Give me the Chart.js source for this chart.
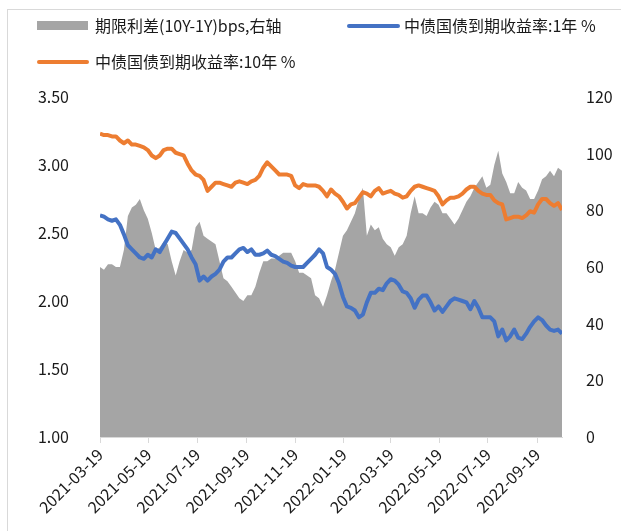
<!DOCTYPE html>
<html>
<head>
<meta charset="utf-8">
<script src="https://cdn.jsdelivr.net/npm/chart.js@4"></script>
<style>
  html, body { margin: 0; padding: 0; background: #fff; }
  #wrap { position: relative; width: 621px; height: 531px; overflow: hidden; }
  #frame { position: absolute; left: 7px; top: 9px; width: 640px; height: 560px; border: 1px solid #d9d9d9; }
  canvas { position: absolute; left: 0; top: 0; }
  .lg { position: absolute; font: 16px "Noto Sans CJK SC", sans-serif; color: #1a1a1a; white-space: nowrap; line-height: 20px; }
  .sw { position: absolute; }
</style>
</head>
<body>
<div id="wrap">
  <div id="frame"></div>
  <canvas id="spreadChart" width="621" height="531"></canvas>
  <!-- legenda -->
  <div class="sw" style="left:37px;top:21px;width:51px;height:9px;background:#a5a5a5"></div>
  <div class="lg" style="left:95px;top:15px">期限利差(10Y-1Y)bps,右轴</div>
  <div class="sw" style="left:347px;top:24px;width:53px;height:4px;border-radius:2px;background:#4472c4"></div>
  <div class="lg" style="left:404px;top:15px">中债国债到期收益率:1年 %</div>
  <div class="sw" style="left:37px;top:60px;width:52px;height:4px;border-radius:2px;background:#ed7d31"></div>
  <div class="lg" style="left:95px;top:51px">中债国债到期收益率:10年 %</div>
</div>
<script>
// ==========================
// DADOS (amostra a cada 5 dias a partir de 2021-03-19)
// ==========================
const startDate = "2021-03-19"
const stepDays = 5

// Rótulos do eixo X
const tickLabels = ["2021-03-19", "2021-05-19", "2021-07-19", "2021-09-19", "2021-11-19",
  "2022-01-19", "2022-03-19", "2022-05-19", "2022-07-19", "2022-09-19"]

// 中债国债到期收益率:10年 (%)
const tenYear = [
  3.23, 3.22, 3.22, 3.21, 3.21, 3.18, 3.16, 3.18, 3.15, 3.15,
  3.14, 3.13, 3.11, 3.07, 3.05, 3.07, 3.11, 3.12, 3.12, 3.09,
  3.08, 3.07, 3.01, 2.96, 2.93, 2.92, 2.89, 2.81, 2.84, 2.87,
  2.87, 2.86, 2.85, 2.84, 2.87, 2.88, 2.87, 2.86, 2.88, 2.89,
  2.92, 2.98, 3.02, 2.99, 2.96, 2.93, 2.93, 2.93, 2.92, 2.85,
  2.83, 2.86, 2.85, 2.85, 2.85, 2.84, 2.81, 2.77, 2.82, 2.79,
  2.77, 2.73, 2.68, 2.71, 2.72, 2.76, 2.80, 2.79, 2.77, 2.81,
  2.83, 2.79, 2.80, 2.81, 2.79, 2.78, 2.76, 2.77, 2.81, 2.84,
  2.85, 2.84, 2.83, 2.82, 2.81, 2.77, 2.71, 2.74, 2.76, 2.76,
  2.77, 2.79, 2.82, 2.84, 2.84, 2.81, 2.79, 2.78, 2.78, 2.74,
  2.72, 2.71, 2.60, 2.61, 2.62, 2.62, 2.61, 2.63, 2.66, 2.65,
  2.71, 2.75, 2.75, 2.72, 2.70, 2.72, 2.67
]

// 中债国债到期收益率:1年 (%)
const oneYear = [
  2.63, 2.62, 2.60, 2.59, 2.60, 2.56, 2.49, 2.41, 2.38, 2.35,
  2.32, 2.31, 2.34, 2.32, 2.38, 2.36, 2.41, 2.46, 2.51, 2.50,
  2.46, 2.42, 2.38, 2.32, 2.27, 2.15, 2.18, 2.15, 2.18, 2.20,
  2.23, 2.29, 2.32, 2.32, 2.35, 2.38, 2.39, 2.36, 2.38, 2.34,
  2.34, 2.35, 2.37, 2.34, 2.33, 2.31, 2.29, 2.28, 2.26, 2.25,
  2.25, 2.25, 2.28, 2.31, 2.34, 2.38, 2.35, 2.25, 2.23, 2.20,
  2.13, 2.03, 1.96, 1.95, 1.93, 1.88, 1.90, 1.99, 2.06, 2.06,
  2.09, 2.08, 2.13, 2.16, 2.15, 2.12, 2.07, 2.06, 2.02, 1.95,
  2.01, 2.04, 2.04, 1.99, 1.93, 1.96, 1.92, 1.96, 2.00, 2.02,
  2.01, 2.00, 1.99, 1.94, 2.00, 1.95, 1.88, 1.88, 1.88, 1.85,
  1.74, 1.79, 1.71, 1.74, 1.79, 1.73, 1.72, 1.76, 1.81, 1.85,
  1.88, 1.86, 1.82, 1.79, 1.78, 1.79, 1.76
]

// 期限利差 10Y-1Y (bps, eixo direito)
const spread = [
  60, 59, 61, 61, 60, 60, 66, 78, 81, 82,
  84, 80, 77, 72, 66, 67, 69, 68, 62, 57,
  62, 66, 65, 66, 74, 76, 71, 70, 69, 68,
  62, 56, 55, 53, 51, 49, 48, 50, 50, 53,
  58, 62, 62, 63, 63, 64, 65, 65, 65, 62,
  58, 58, 57, 56, 50, 49, 46, 50, 55, 59,
  65, 71, 73, 76, 79, 84, 88, 71, 75, 73,
  74, 70, 68, 67, 64, 67, 68, 71, 79, 85,
  79, 79, 78, 81, 83, 82, 79, 79, 77, 75,
  77, 80, 83, 85, 88, 90, 92, 88, 89, 96,
  101, 93, 90, 86, 86, 90, 88, 87, 84, 84,
  87, 91, 92, 94, 92, 95, 94
]

// Converte data "AAAA-MM-DD" em dias desde o início
const dayOf = (s) => {
  const [y, m, d] = s.split("-").map(Number)
  const [y0, m0, d0] = startDate.split("-").map(Number)
  return (Date.UTC(y, m - 1, d) - Date.UTC(y0, m0 - 1, d0)) / 86400000
}
const tickDays = tickLabels.map(dayOf)
const toPoints = (arr) => arr.map((v, i) => ({ x: i * stepDays, y: v }))
const lastDay = (spread.length - 1) * stepDays

const font = { family: "'Noto Sans CJK SC', sans-serif", size: 16 }

// ==========================
// GRÁFICO
// ==========================
const ctx = document.getElementById("spreadChart").getContext("2d")

const spreadChart = new Chart(ctx, {
  type: "line",
  data: {
    datasets: [
      {
        label: "中债国债到期收益率:1年 %",
        data: toPoints(oneYear),
        yAxisID: "y",
        borderColor: "#4472c4",
        borderWidth: 4,
        pointRadius: 0,
        tension: 0,
        borderJoinStyle: "round",
        order: 1,
      },
      {
        label: "中债国债到期收益率:10年 %",
        data: toPoints(tenYear),
        yAxisID: "y",
        borderColor: "#ed7d31",
        borderWidth: 4,
        pointRadius: 0,
        tension: 0,
        borderJoinStyle: "round",
        order: 2,
      },
      {
        label: "期限利差(10Y-1Y)bps,右轴",
        data: toPoints(spread),
        yAxisID: "y1",
        borderWidth: 0,
        backgroundColor: "#a5a5a5",
        fill: "start",
        pointRadius: 0,
        tension: 0,
        order: 3,
      },
    ],
  },
  options: {
    responsive: false,
    animation: false,
    devicePixelRatio: 1,
    layout: { padding: { top: 97, left: 0, right: 0, bottom: 0 } },
    plugins: {
      legend: { display: false },
      tooltip: { enabled: false },
    },
    scales: {
      x: {
        type: "linear",
        min: 0,
        max: lastDay,
        afterBuildTicks: (axis) => {
          axis.ticks = tickDays.map((v) => ({ value: v }))
        },
        afterFit: (axis) => { axis.height = 94 },
        ticks: {
          autoSkip: false,
          minRotation: 45,
          maxRotation: 45,
          padding: 2,
          color: "#1a1a1a",
          font: font,
          callback: (value, index) => tickLabels[index],
        },
        grid: {
          drawOnChartArea: false,
          drawTicks: true,
          tickLength: 6,
          color: "#d9d9d9",
        },
        border: { display: true, color: "#d9d9d9", width: 1 },
      },
      y: {
        position: "left",
        min: 1,
        max: 3.5,
        afterFit: (axis) => { axis.width = 100 },
        ticks: {
          stepSize: 0.5,
          padding: 23,
          color: "#1a1a1a",
          font: font,
          callback: (v) => v.toFixed(2),
        },
        grid: { display: false },
        border: { display: false },
      },
      y1: {
        position: "right",
        min: 0,
        max: 120,
        afterFit: (axis) => { axis.width = 59 },
        ticks: {
          stepSize: 20,
          padding: 16,
          color: "#1a1a1a",
          font: font,
        },
        grid: { display: false },
        border: { display: false },
      },
    },
  },
})
</script>
</body>
</html>
